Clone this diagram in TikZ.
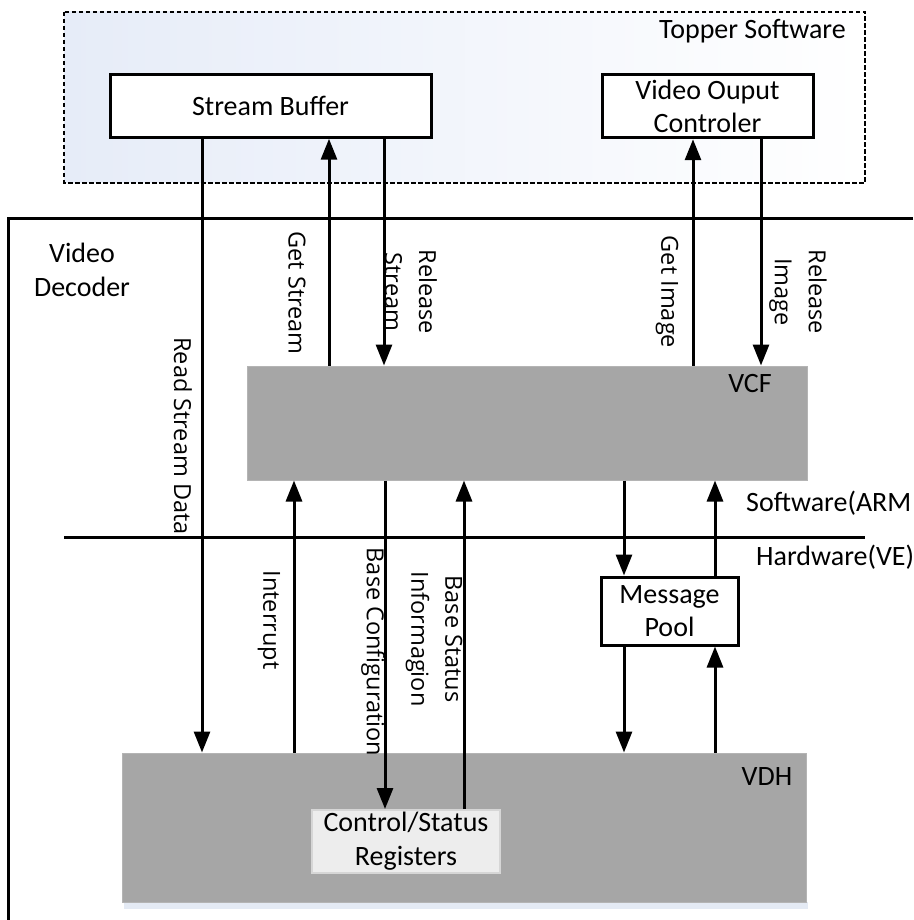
\documentclass[tikz,border=0pt]{standalone}
\usepackage{fontspec}
\setmainfont{Carlito}
\newfontfamily\lblfont{Open Sans}
\usetikzlibrary{arrows.meta}
\definecolor{blockgray}{HTML}{A6A6A6}
\definecolor{blockedge}{HTML}{B4B4B4}
\definecolor{regfill}{HTML}{EDEDED}
\definecolor{regedge}{HTML}{D6D6D6}
\definecolor{softblue}{RGB}{230,236,248}
\definecolor{shadowblue}{RGB}{228,234,244}
\begin{document}
\begin{tikzpicture}[x=1pt,y=-1pt,
  box/.style={draw, line width=3pt, fill=white, inner sep=0pt,
    font=\fontsize{28}{33}\selectfont, align=center},
  grayblk/.style={draw=blockedge, line width=1pt, fill=blockgray, inner sep=0pt},
  regbox/.style={draw=regedge, line width=2pt, fill=regfill, inner sep=0pt,
    font=\fontsize{28}{34}\selectfont, align=center},
  arr/.style={line width=3pt, -{Triangle[length=21pt,width=16pt]}},
  ln/.style={line width=3pt},
  txt/.style={font=\fontsize{28}{34}\selectfont, align=center, inner sep=0pt},
  vlbl/.style={font=\lblfont\fontsize{23.5}{34}\selectfont, rotate=-90,
    align=center, inner sep=0pt}
]
\useasboundingbox (0,0) rectangle (913,920);
\fill[white] (0,0) rectangle (913,920);

% Topper software region
\shade[left color=softblue, right color=white] (64,12) rectangle (865,183);
\draw[line width=2.8pt, dash pattern=on 4.5pt off 2.5pt] (64,12) rectangle (865,183);
\node[txt, anchor=east] (ts) at (846,31) {Topper Software};

\node[box, minimum width=321, minimum height=62.5] (sb) at (270.5,106) {Stream Buffer};
\node[box, minimum width=211, minimum height=63.5] (voc) at (707.5,106) {Video Ouput\\Controler};

% Video decoder frame
\coordinate (frTR) at (913,218);
\coordinate (frTL) at (8,218);
\coordinate (frBL) at (8,920);
\draw[ln] (frTR) -- (frTL) -- (frBL);
\node[txt] (vd) at (82,270) {Video\\Decoder};

% blocks
\fill[shadowblue] (124,902) rectangle (808,909);
\node[grayblk, minimum width=560, minimum height=114] (vcf) at (527,423) {};
\node[txt] (vcfl) at (750,384) {VCF};
\node[grayblk, minimum width=684, minimum height=149] (vdh) at (464,827.5) {};
\node[txt] (vdhl) at (767,777) {VDH};
\node[regbox, minimum width=188, minimum height=63] (csr) at (406,841.5) {Control/Status\\Registers};
\node[box, minimum width=137, minimum height=68] (mp) at (669.5,611) {Message\\Pool};

% SW / HW divider
\coordinate (divL) at (64,537);
\coordinate (divR) at (865,537);
\draw[ln] (divL) -- (divR);
\node[txt, anchor=west] (sw) at (746,503) {Software(ARM};
\node[txt, anchor=west] (hw) at (756,557) {Hardware(VE)};

% x positions of connectors
\coordinate (xRSD) at (202,0);
\coordinate (xGS) at (329,0);
\coordinate (xRS) at (384,0);
\coordinate (xGI) at (693,0);
\coordinate (xRI) at (761,0);
\coordinate (xINT) at (294,0);
\coordinate (xBC) at (385,0);
\coordinate (xBS) at (464,0);
\coordinate (xMD) at (624,0);
\coordinate (xMU) at (715,0);

% connectors
\draw[arr] (sb.south -| xRSD) -- (vdh.north -| xRSD);
\draw[arr] (vcf.north -| xGS) -- (sb.south -| xGS);
\draw[arr] (sb.south -| xRS) -- (vcf.north -| xRS);
\draw[arr] (vcf.north -| xGI) -- (voc.south -| xGI);
\draw[arr] (voc.south -| xRI) -- (vcf.north -| xRI);
\draw[arr] (vdh.north -| xINT) -- (vcf.south -| xINT);
\draw[arr] (vcf.south -| xBC) -- (csr.north -| xBC);
\draw[arr] (csr.north -| xBS) -- (vcf.south -| xBS);
\draw[arr] (vcf.south -| xMD) -- (mp.north -| xMD);
\draw[arr] (mp.north -| xMU) -- (vcf.south -| xMU);
\draw[arr] (mp.south -| xMD) -- (vdh.north -| xMD);
\draw[arr] (vdh.north -| xMU) -- (mp.south -| xMU);

% connector labels
\node[vlbl] (lRSD) at (183,436) {Read Stream Data};
\node[vlbl] (lGS) at (297,293) {Get Stream};
\node[vlbl] (lRS) at (411,292) {Release\\Stream};
\node[vlbl] (lGI) at (667,292) {Get Image};
\node[vlbl] (lRI) at (798,292) {Release\\Image};
\node[vlbl] (lINT) at (269,620) {Interrupt};
\node[vlbl] (lBC) at (373,652) {Base Configuration};
\node[vlbl] (lBS) at (434,639) {Base Status\\Informagion};
\end{tikzpicture}
\end{document}
